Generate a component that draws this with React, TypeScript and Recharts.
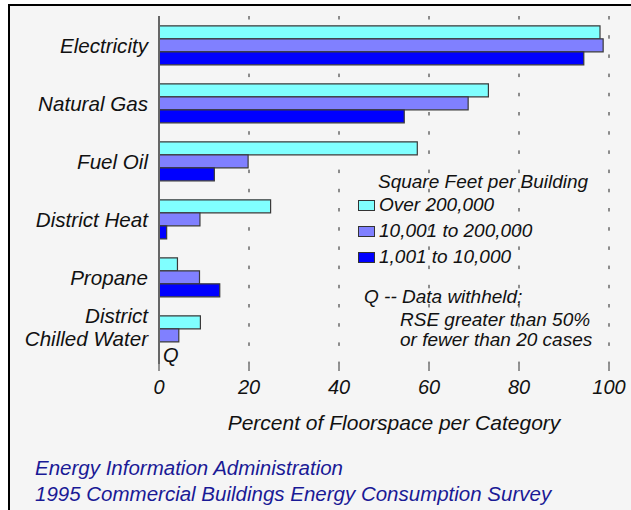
import { BarChart, Bar, XAxis, YAxis, CartesianGrid, Legend, Label, LabelList } from 'recharts'

const categories = ['Electricity', 'Natural Gas', 'Fuel Oil', 'District Heat', 'Propane', 'District Chilled Water']
const over200k = [98.0, 73.2, 57.4, 24.8, 4.1, 9.2]
const mid10kTo200k = [98.7, 68.7, 19.8, 9.1, 9.0, 4.4]
const small1kTo10k: (number | null)[] = [94.4, 54.5, 12.3, 1.7, 13.5, null]
const xTicks = [0, 20, 40, 60, 80, 100]

const seriesNames = ['Over 200,000', '10,001 to 200,000', '1,001 to 10,000']
const seriesColors = ['#80ffff', '#8080ff', '#0000ff']

const noteLines = ['Q -- Data withheld;', 'RSE greater than 50%', 'or fewer than 20 cases']
const credits = ['Energy Information Administration', '1995 Commercial Buildings Energy Consumption Survey']

const data = categories.map((name, i) => ({
  name,
  over: over200k[i],
  mid: mid10kTo200k[i],
  small: small1kTo10k[i],
}))

const FONT = '"Liberation Sans", Arial, sans-serif'

function CategoryTick(props: any) {
  const { x, y, payload } = props
  const lines = payload.value === 'District Chilled Water' ? ['District', 'Chilled Water'] : [payload.value]
  const offsets = lines.length === 2 ? [-19, 4] : [1]
  return (
    <g>
      {lines.map((l, i) => (
        <text key={l} x={x} y={y + offsets[i]} dy="0.35em" textAnchor="end"
          fontFamily={FONT} fontStyle="italic" fontSize={20.6} fill="#111">{l}</text>
      ))}
    </g>
  )
}

function ValueTick(props: any) {
  const { x, y, payload } = props
  return (
    <text x={x} y={y} dy="0.35em" textAnchor="middle" fontFamily={FONT} fontStyle="italic" fontSize={20} fill="#111">
      {payload.value}
    </text>
  )
}

// the withheld (null) small-building bar gets a "Q" drawn in its slot, just below the mid bar
function WithheldLabel(props: any) {
  const { x, y, height, index } = props
  if (index === undefined || small1kTo10k[index] !== null) return null
  return (
    <text x={x + 4} y={y + height * 1.5 + 7} dy="0.35em" fontFamily={FONT} fontStyle="italic" fontSize={20} fill="#111">Q</text>
  )
}

function LegendBox() {
  const txt = { position: 'absolute' as const, fontFamily: FONT, fontStyle: 'italic', fontSize: 19, lineHeight: '22px', color: '#111', whiteSpace: 'nowrap' as const }
  return (
    <div style={{ position: 'relative', width: 260, height: 190 }}>
      <div style={{ ...txt, left: 28, top: 1 }}>Square Feet per Building</div>
      {seriesNames.map((n, i) => (
        <div key={n}>
          <div style={{ position: 'absolute', left: 8, top: 30 + 26 * i, width: 15, height: 9, background: seriesColors[i], border: '1px solid #333' }} />
          <div style={{ ...txt, left: 29, top: 24 + 26 * i }}>{n}</div>
        </div>
      ))}
      <div style={{ ...txt, left: 14, top: 116 }}>{noteLines[0]}</div>
      <div style={{ ...txt, left: 50, top: 139 }}>{noteLines[1]}</div>
      <div style={{ ...txt, left: 50, top: 159 }}>{noteLines[2]}</div>
    </div>
  )
}

export default function App() {
  return (
    <div style={{ position: 'absolute', left: 0, top: 0, width: 631, height: 510, background: '#fff', overflow: 'hidden' }}>
      <div style={{ position: 'absolute', left: 8, top: 4, width: 700, height: 600, background: '#f5f5f5', borderLeft: '2px solid #000', borderTop: '2px solid #000' }} />
      <div style={{ position: 'absolute', left: 0, top: 0 }}>
        <BarChart width={631} height={434} data={data} layout="vertical"
          margin={{ top: 16, right: 22, bottom: 0, left: 0 }}
          barCategoryGap="17%" barGap={0}>
          <CartesianGrid horizontal={false} stroke="#222" strokeDasharray="3.5 15.7" />
          <XAxis type="number" domain={[0, 100]} ticks={xTicks} axisLine={false}
            tickLine={{ stroke: '#333' }} tickSize={7} tickMargin={16} height={70} tick={<ValueTick />}>
            <Label position="insideBottom" content={(p: any) => {
              const vb = p.viewBox
              return (
                <text x={vb.x + vb.width / 2 + 10} y={vb.y + vb.height - 11} dy="0.35em" textAnchor="middle"
                  fontFamily={FONT} fontStyle="italic" fontSize={21} fill="#111">
                  Percent of Floorspace per Category
                </text>
              )
            }} />
          </XAxis>
          <YAxis type="category" dataKey="name" width={159} axisLine={{ stroke: '#666', strokeWidth: 2 }}
            tickLine={false} tickSize={0} tickMargin={11} tick={<CategoryTick />} />
          <Legend layout="vertical" align="center" verticalAlign="middle" content={<LegendBox />}
            wrapperStyle={{ left: 350, top: 170, width: 260 }} />
          <Bar dataKey="over" name={seriesNames[0]} fill={seriesColors[0]} stroke="#3a3a3a" strokeWidth={1.2} isAnimationActive={false} />
          <Bar dataKey="mid" name={seriesNames[1]} fill={seriesColors[1]} stroke="#3a3a3a" strokeWidth={1.2} isAnimationActive={false}>
            <LabelList dataKey="mid" content={<WithheldLabel />} />
          </Bar>
          <Bar dataKey="small" name={seriesNames[2]} fill={seriesColors[2]} stroke="#3a3a3a" strokeWidth={1.2} isAnimationActive={false} />
        </BarChart>
      </div>
      {credits.map((c, i) => (
        <div key={c} style={{ position: 'absolute', left: 35, top: 457 + 26 * i, fontFamily: FONT, fontStyle: 'italic', fontSize: 20.5, lineHeight: '22px', color: '#1a1a96', whiteSpace: 'nowrap' }}>{c}</div>
      ))}
    </div>
  )
}
